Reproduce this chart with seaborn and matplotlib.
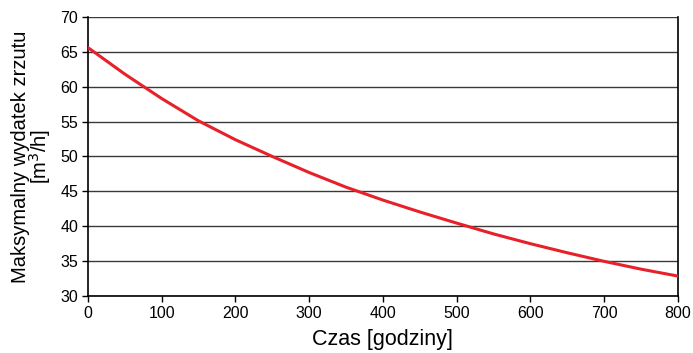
import matplotlib
matplotlib.use('Agg')
from matplotlib import pyplot as plt
import pandas as pd
import seaborn as sns

# values
czas = [0, 50, 100, 150, 200, 250, 300, 350, 400, 450, 500, 550, 600, 650, 700, 750, 800]
wydatek = [65.6, 61.8, 58.3, 55.1, 52.4, 50.0, 47.7, 45.6, 43.75, 42.05, 40.45,
           38.9, 37.5, 36.2, 34.97, 33.85, 32.86]
y_ticks = [30, 35, 40, 45, 50, 55, 60, 65, 70]
x_ticks = [0, 100, 200, 300, 400, 500, 600, 700, 800]

df = pd.DataFrame({'czas': czas, 'wydatek': wydatek})

sns.set_style('white')
plt.rcParams['font.family'] = ['Liberation Sans', 'DejaVu Sans']
plt.rcParams['text.color'] = 'black'
plt.rcParams['axes.labelcolor'] = 'black'
plt.rcParams['xtick.color'] = 'black'
plt.rcParams['ytick.color'] = 'black'

fig, ax = plt.subplots(figsize=(6.93, 3.53), dpi=100)
fig.subplots_adjust(left=0.127, right=0.978, top=0.952, bottom=0.1615)

for y in y_ticks:
    ax.axhline(y, color='#3a3a3a', lw=1.0, zorder=1)

sns.lineplot(data=df, x='czas', y='wydatek', color='#e8202a', lw=2.2, ax=ax, zorder=3)

ax.set_xlim(0, 800)
ax.set_ylim(30, 70)
ax.set_xticks(x_ticks)
ax.set_yticks(y_ticks)
ax.tick_params(axis='both', direction='out', length=4, width=1, color='black',
               labelsize=11.5, bottom=True, left=True, pad=3)
for side in ['left', 'bottom', 'right']:
    ax.spines[side].set_color('black')
    ax.spines[side].set_linewidth(1.2)
ax.spines['top'].set_visible(False)

ax.set_xlabel('Czas [godziny]', fontsize=15.5, labelpad=6)
ax.set_ylabel('Maksymalny wydatek zrzutu\n[m$^3$/h]', fontsize=14.5, linespacing=0.9, labelpad=5)

fig.savefig('out.png', dpi=100)
